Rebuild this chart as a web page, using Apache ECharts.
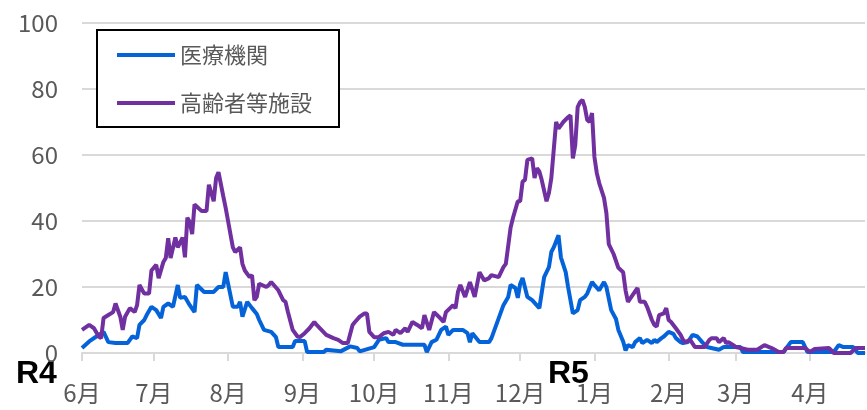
<!DOCTYPE html>
<html>
<head>
<meta charset="utf-8">
<script src="https://cdn.jsdelivr.net/npm/echarts@6/dist/echarts.min.js"></script>
<style>
  html, body { margin: 0; padding: 0; background: #fff; }
  #chart { width: 867px; height: 410px; }
</style>
</head>
<body>
<div id="chart"></div>
<script>
// 日次カテゴリ（R4.6.1 から）
const startDate = '2022-06-01';
const dayCount = 328;
const seriesNames = ['医療機関', '高齢者等施設'];

// 医療機関：[日番号] と [件数]
const medDays = [0, 3, 6, 9, 11, 14, 19, 21, 23, 24, 26, 27, 29, 31, 33, 34, 36, 38, 40, 41, 43, 45, 47, 48, 51, 55, 57, 59, 60, 61, 63, 65, 66, 67, 69, 71, 73, 74, 76, 79, 81, 82, 88, 89, 93, 94, 101, 102, 108, 112, 115, 116, 122, 124, 127, 128, 131, 134, 143, 144, 146, 148, 150, 152, 153, 155, 159, 161, 162, 163, 166, 170, 171, 174, 176, 178, 179, 181, 182, 183, 184, 186, 188, 191, 193, 195, 196, 197, 199, 200, 202, 203, 205, 207, 208, 210, 211, 213, 214, 216, 218, 219, 221, 223, 224, 226, 227, 228, 230, 231, 233, 234, 236, 238, 239, 240, 242, 243, 245, 247, 248, 250, 251, 253, 255, 257, 259, 261, 266, 268, 275, 276, 293, 296, 301, 303, 314, 316, 318, 322, 324, 327];
const medVals = [1.5, 3.5, 5, 6.4, 3.3, 3, 3, 5, 4.5, 8.5, 10, 11.5, 14, 13, 10.6, 14, 15, 14, 20.6, 16.7, 17, 14.5, 12.4, 20.6, 18.5, 18.5, 20, 20, 24.5, 21, 14, 14, 15.5, 11, 15.5, 13.6, 11.8, 10, 7, 6.4, 4.8, 1.8, 1.8, 3.6, 3.6, 0.3, 0.3, 1, 0.5, 2, 1.5, 0.5, 1.8, 4, 4.5, 3.3, 3.3, 2.5, 2.5, 0.3, 3.3, 4, 7, 8, 5.5, 7, 7, 6, 3.3, 6, 3.3, 3.3, 4.5, 10.5, 14.5, 17, 20.6, 19.7, 16.7, 21, 22.7, 17, 16, 13.6, 23, 26, 30.6, 32, 35.7, 29, 24.5, 20, 12, 13, 16, 17, 18, 21.5, 20.6, 19, 21.5, 20, 13, 10.3, 7, 3.5, 0.8, 2.4, 1.8, 3.3, 4.5, 3, 4, 3, 4, 3.3, 4.5, 5, 6.4, 5.8, 4.5, 3.3, 3, 3.3, 5.5, 5, 3.3, 1.8, 1, 1.8, 1.8, 0.3, 0.3, 3.3, 3.3, 0.3, 0.3, 2.4, 1.8, 1.8, 0, 0];

// 高齢者等施設：[日番号] と [件数]
const careDays = [0, 3, 5, 7, 8, 9, 11, 13, 14, 16, 17, 18, 20, 22, 23, 24, 26, 28, 29, 31, 32, 34, 35, 36, 37, 39, 40, 42, 43, 44, 45, 46, 47, 50, 52, 53, 55, 56, 57, 59, 60, 61, 63, 64, 66, 67, 68, 70, 71, 72, 73, 74, 77, 78, 79, 82, 84, 85, 86, 88, 90, 91, 93, 95, 97, 98, 100, 102, 105, 107, 109, 111, 113, 114, 116, 118, 119, 120, 122, 124, 126, 128, 130, 131, 133, 135, 136, 138, 140, 142, 143, 145, 147, 149, 151, 152, 155, 156, 157, 158, 160, 162, 164, 166, 168, 170, 171, 174, 176, 177, 179, 180, 182, 183, 184, 185, 186, 188, 189, 190, 191, 192, 194, 195, 196, 198, 199, 201, 203, 204, 205, 206, 207, 208, 209, 210, 211, 212, 213, 214, 215, 216, 218, 219, 220, 222, 224, 226, 227, 228, 230, 232, 233, 235, 236, 238, 239, 240, 241, 243, 244, 245, 246, 248, 250, 251, 252, 254, 256, 260, 262, 263, 265, 266, 268, 269, 270, 272, 273, 275, 278, 282, 285, 288, 291, 293, 294, 302, 304, 306, 312, 314, 321, 323, 327];
const careVals = [7, 8.5, 7.5, 5, 4.5, 10.6, 11.5, 12.4, 15, 11, 7, 11, 13.6, 12.4, 14.5, 20.6, 18, 18, 25, 26.7, 22.7, 27.6, 28.8, 34.8, 28.8, 35, 32, 35, 29, 41, 39.7, 36, 45, 43, 43, 51, 46, 53, 54.8, 47.5, 44, 40, 32, 30.6, 32, 27, 25, 23, 23.6, 16, 17, 21, 20, 20.6, 21.5, 19, 16, 15.5, 12.4, 7, 5, 4.8, 6, 7.5, 9.4, 8.5, 7, 5.5, 4.5, 4, 3, 3, 8.5, 9.4, 11, 12, 12, 6.4, 4.8, 4.8, 6, 6.4, 5.5, 7, 6, 7.5, 6.4, 9.4, 8.5, 7.5, 11.5, 7, 12.4, 11, 9.4, 12.4, 14.5, 13.6, 18.5, 20.6, 17, 21.5, 17, 24.5, 22, 22.7, 23.6, 23, 26, 27, 38, 41, 46, 46, 52, 52.4, 58.5, 59, 53, 56, 55, 52.4, 46, 48.5, 53, 70, 68, 70, 71.5, 72, 59, 63, 74.5, 76, 76.7, 74.5, 70.6, 70, 72.7, 59.4, 54.5, 51.5, 47, 42.4, 33, 30, 25.8, 24.5, 19, 15.5, 17.6, 19.7, 15.5, 15.5, 14, 10, 8.5, 8, 11.5, 12, 13.6, 10, 9.4, 7.5, 5.5, 4, 3.3, 4, 1.8, 1.8, 4, 4.5, 4.5, 3.3, 4.5, 3, 3.3, 2.4, 1.8, 1.5, 1, 1, 2.4, 1.5, 0.3, 0.3, 1.5, 1.5, 0.3, 1.2, 1.5, 0, 0, 1.5, 1.5];

const yTicks = [0, 20, 40, 60, 80, 100];

const chart = echarts.init(document.getElementById('chart'));

// 日付カテゴリを作る
const categories = [];
const d0 = new Date(startDate + 'T00:00:00Z');
for (let i = 0; i < dayCount; i++) {
  const d = new Date(d0.getTime() + i * 86400000);
  categories.push(d.toISOString().slice(0, 10));
}
const isMonthStart = (idx, val) => val.slice(8, 10) === '01';

const labelColor = '#595959';
const font = "'Noto Sans CJK JP', 'Noto Sans', sans-serif";

chart.setOption({
  animation: false,
  color: ['#0563DA', '#7030A0'],
  grid: { left: 82, right: 2, top: 23, bottom: 57 },
  legend: {
    orient: 'vertical',
    left: 97,
    top: 30,
    padding: [13, 27, 12, 20],
    itemGap: 24,
    icon: 'rect',
    itemWidth: 58,
    itemHeight: 4,
    borderColor: '#000',
    borderWidth: 2,
    backgroundColor: '#fff',
    textStyle: { color: labelColor, fontSize: 22, fontFamily: font, lineHeight: 24 },
    data: seriesNames
  },
  xAxis: {
    type: 'category',
    boundaryGap: false,
    data: categories,
    axisLine: { lineStyle: { color: '#d9d9d9', width: 2 } },
    axisTick: { interval: isMonthStart, length: 8, lineStyle: { color: '#d9d9d9', width: 2 } },
    axisLabel: {
      interval: isMonthStart,
      margin: 28,
      color: labelColor,
      fontSize: 24,
      fontFamily: font,
      formatter: v => Number(v.slice(5, 7)) + '月'
    },
    splitLine: { show: false }
  },
  yAxis: {
    type: 'value',
    min: yTicks[0],
    max: yTicks[yTicks.length - 1],
    interval: 20,
    axisLine: { show: false },
    axisTick: { show: false },
    axisLabel: { margin: 24, color: labelColor, fontSize: 24, fontFamily: font },
    splitLine: { lineStyle: { color: '#d9d9d9', width: 2 } }
  },
  graphic: [
    { type: 'text', left: 16, top: 358, style: { text: 'R4', fontSize: 32, fontWeight: 'bold', fill: '#000', fontFamily: "'Liberation Sans', Arial, sans-serif" } },
    { type: 'text', left: 548, top: 358, style: { text: 'R5', fontSize: 32, fontWeight: 'bold', fill: '#000', fontFamily: "'Liberation Sans', Arial, sans-serif" } }
  ],
  series: [{
    name: seriesNames[0],
    type: 'line',
    symbol: 'none',
    lineStyle: { width: 4 },
    data: medDays.map((d, i) => [d, medVals[i]])
  }, {
    name: seriesNames[1],
    type: 'line',
    symbol: 'none',
    lineStyle: { width: 4 },
    data: careDays.map((d, i) => [d, careVals[i]])
  }]
});
</script>
</body>
</html>
